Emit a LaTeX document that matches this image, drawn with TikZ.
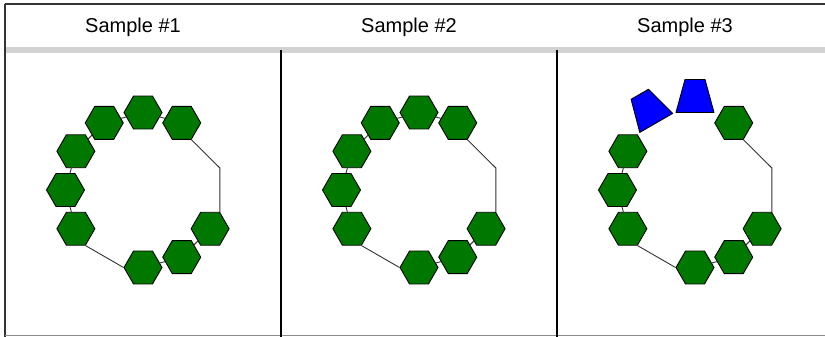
\documentclass[tikz,border=0pt]{standalone}
\usepackage{fontspec}
\setmainfont{Liberation Sans}
\usetikzlibrary{shapes.geometric}
\definecolor{glyc_green}{RGB}{0,120,0}
\definecolor{glyc_blue}{RGB}{0,0,255}

\begin{document}
\begin{tikzpicture}[x=1pt,y=1pt,
    hexa/.style={regular polygon,regular polygon sides=6,minimum size=38pt,
                 inner sep=0pt,draw=black,line width=0.9pt,fill=glyc_green},
    sugar/.style={fill=glyc_blue,draw=black,line width=0.9pt,line join=round},
    link/.style={draw=black!80,line width=0.9pt},
    title/.style={font=\fontsize{20}{24}\selectfont}]

\useasboundingbox (0,0) rectangle (825,-337);

% table frame
\fill[gray!35] (5,-47) rectangle (825,-53);
\draw[line width=1.4pt,black!80] (5,-4) -- (825,-4);
\draw[line width=1.4pt,black!80] (5,-4) -- (5,-337);
\draw[black!45,line width=0.8pt] (5,-335.5) -- (825,-335.5);
\foreach \x in {281,557}
  \draw[line width=1.4pt] (\x,-50) -- (\x,-337);

% column titles
\foreach \k in {1,2,3}
  \node[title] (title\k) at ({133+276*(\k-1)},-27) {Sample \#\k};

% rings of residues
\foreach \k in {0,1,2} {
  \begin{scope}[shift={(143+276*\k,-190)}]
    \foreach \a in {60,150,180,210,270,300,330}
      \node[hexa] (s\k-\a) at (\a:77.5) {};
    \draw[link] (s\k-150) -- (s\k-180);
    \draw[link] (s\k-180) -- (s\k-210);
    \draw[link] (s\k-270) -- (s\k-300);
    \draw[link] (s\k-300) -- (s\k-330);
    \draw[link] (s\k-60.-60) -- (s\k-330.60 |- 0,22) -- (s\k-330.60);
    \draw[link] (s\k-210.-60) -- (s\k-270.180);
  \end{scope}
}

% first two samples: closed top of the ring
\foreach \k in {0,1} {
  \begin{scope}[shift={(143+276*\k,-190)}]
    \foreach \a in {90,120}
      \node[hexa] (s\k-\a) at (\a:77.5) {};
    \draw[link] (s\k-60) -- (s\k-90);
    \draw[link] (s\k-90) -- (s\k-120);
    \draw[link] (s\k-120) -- (s\k-150);
  \end{scope}
}

% third sample: two blue units on top
\begin{scope}[shift={(695,-190)}]
  \foreach \a in {90,120}
    \filldraw[sugar,rotate=\a-90] (-19,77.5) -- (19,77.5) -- (10,110.5) -- (-10,110.5) -- cycle;
\end{scope}

\end{tikzpicture}
\end{document}
